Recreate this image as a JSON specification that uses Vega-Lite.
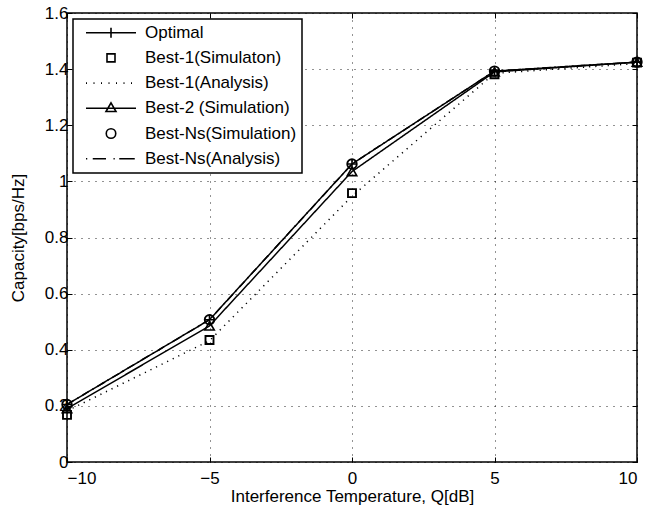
{
  "$schema": "https://vega.github.io/schema/vega-lite/v6.json",
  "width": 570,
  "height": 449,
  "autosize": "none",
  "padding": {"left": 67, "top": 13, "right": 22, "bottom": 46},
  "background": "white",
  "config": {
    "font": "Liberation Sans",
    "view": {"stroke": "black", "strokeWidth": 1.5},
    "axis": {
      "labelFont": "Liberation Sans",
      "labelFontSize": 17,
      "labelColor": "black",
      "titleFont": "Liberation Sans",
      "titleFontSize": 17,
      "titleFontWeight": "normal",
      "titleColor": "black",
      "domain": false,
      "grid": true,
      "gridColor": "black",
      "gridDash": [1, 6],
      "gridWidth": 1,
      "gridOpacity": 0.85,
      "tickColor": "black",
      "tickSize": -5,
      "tickWidth": 1
    },
    "legend": {
      "strokeColor": "black",
      "strokeWidth": 1.5,
      "fillColor": "white",
      "padding": 5,
      "labelFont": "Liberation Sans",
      "labelFontSize": 17,
      "labelColor": "black",
      "labelOffset": 8,
      "symbolOffset": 7,
      "clipHeight": 17.4,
      "rowPadding": 6.2,
      "symbolStrokeColor": "black",
      "symbolStrokeWidth": 1.6,
      "symbolFillColor": "transparent",
      "symbolSize": 2500
    }
  },
  "data": {
    "values": [
      {"series": "Optimal", "x": -10, "y": 0.205},
      {"series": "Optimal", "x": -5, "y": 0.507},
      {"series": "Optimal", "x": 0, "y": 1.062},
      {"series": "Optimal", "x": 5, "y": 1.393},
      {"series": "Optimal", "x": 10, "y": 1.425},
      {"series": "Best-1(Simulaton)", "x": -10, "y": 0.168},
      {"series": "Best-1(Simulaton)", "x": -5, "y": 0.435},
      {"series": "Best-1(Simulaton)", "x": 0, "y": 0.958},
      {"series": "Best-1(Simulaton)", "x": 5, "y": 1.382},
      {"series": "Best-1(Simulaton)", "x": 10, "y": 1.423},
      {"series": "Best-1(Analysis)", "x": -10, "y": 0.182},
      {"series": "Best-1(Analysis)", "x": -5, "y": 0.432},
      {"series": "Best-1(Analysis)", "x": 0, "y": 0.947},
      {"series": "Best-1(Analysis)", "x": 5, "y": 1.385},
      {"series": "Best-1(Analysis)", "x": 10, "y": 1.42},
      {"series": "Best-2 (Simulation)", "x": -10, "y": 0.19},
      {"series": "Best-2 (Simulation)", "x": -5, "y": 0.485},
      {"series": "Best-2 (Simulation)", "x": 0, "y": 1.035},
      {"series": "Best-2 (Simulation)", "x": 5, "y": 1.39},
      {"series": "Best-2 (Simulation)", "x": 10, "y": 1.425},
      {"series": "Best-Ns(Simulation)", "x": -10, "y": 0.205},
      {"series": "Best-Ns(Simulation)", "x": -5, "y": 0.507},
      {"series": "Best-Ns(Simulation)", "x": 0, "y": 1.062},
      {"series": "Best-Ns(Simulation)", "x": 5, "y": 1.393},
      {"series": "Best-Ns(Simulation)", "x": 10, "y": 1.425},
      {"series": "Best-Ns(Analysis)", "x": -10, "y": 0.205},
      {"series": "Best-Ns(Analysis)", "x": -5, "y": 0.507},
      {"series": "Best-Ns(Analysis)", "x": 0, "y": 1.062},
      {"series": "Best-Ns(Analysis)", "x": 5, "y": 1.393},
      {"series": "Best-Ns(Analysis)", "x": 10, "y": 1.425}
    ]
  },
  "layer": [
    {
      "encoding": {
        "x": {
          "field": "x",
          "type": "quantitative",
          "scale": {"domain": [-10, 10], "nice": false, "zero": false},
          "axis": {
            "values": [-10, -5, 0, 5, 10],
            "format": "d",
            "title": "Interference Temperature, Q[dB]",
            "labelPadding": 13,
            "titlePadding": 2
          }
        },
        "y": {
          "field": "y",
          "type": "quantitative",
          "scale": {"domain": [0, 1.6], "nice": false},
          "axis": {
            "values": [0, 0.2, 0.4, 0.6, 0.8, 1, 1.2, 1.4, 1.6],
            "format": "~g",
            "title": "Capacity[bps/Hz]",
            "labelPadding": 4,
            "titlePadding": 17
          }
        }
      },
      "layer": [
        {
          "transform": [{"filter": {"field": "series", "oneOf": ["Optimal", "Best-1(Analysis)", "Best-2 (Simulation)", "Best-Ns(Analysis)"]}}],
          "mark": {"type": "line", "color": "black", "strokeWidth": 1.5},
          "encoding": {
            "detail": {"field": "series"},
            "strokeDash": {
              "field": "series",
              "scale": {
                "domain": ["Optimal", "Best-1(Analysis)", "Best-2 (Simulation)", "Best-Ns(Analysis)"],
                "range": [[1, 0], [1.2, 5], [1, 0], [8, 4, 1.5, 4]]
              },
              "legend": null
            },
            "strokeWidth": {
              "field": "series",
              "scale": {
                "domain": ["Optimal", "Best-1(Analysis)", "Best-2 (Simulation)", "Best-Ns(Analysis)"],
                "range": [1.8, 1.3, 1.8, 1.8]
              },
              "legend": null
            }
          }
        },
        {
          "transform": [{"filter": {"field": "series", "equal": "Optimal"}}],
          "mark": {"type": "point", "shape": "M-1,0H1M0,-1V1", "size": 100, "filled": false, "color": "black", "strokeWidth": 1.6, "opacity": 1}
        },
        {
          "transform": [{"filter": {"field": "series", "equal": "Best-1(Simulaton)"}}],
          "mark": {"type": "point", "shape": "square", "size": 64, "filled": false, "color": "black", "strokeWidth": 1.9, "opacity": 1}
        },
        {
          "transform": [{"filter": {"field": "series", "equal": "Best-2 (Simulation)"}}],
          "mark": {"type": "point", "shape": "triangle-up", "size": 90, "filled": false, "color": "black", "strokeWidth": 1.6, "opacity": 1}
        },
        {
          "transform": [{"filter": {"field": "series", "equal": "Best-Ns(Simulation)"}}],
          "mark": {"type": "point", "shape": "circle", "size": 90, "filled": false, "color": "black", "strokeWidth": 1.9, "opacity": 1}
        }
      ]
    },
    {
      "transform": [{"filter": "datum.x > 100"}],
      "mark": {"type": "point", "filled": false, "color": "black", "strokeWidth": 1.6, "opacity": 1, "size": 2500},
      "encoding": {
        "x": {
          "field": "x",
          "type": "quantitative",
          "scale": {"domain": [-10, 10], "nice": false, "zero": false},
          "axis": {"orient": "top", "labels": false, "grid": false, "title": null, "values": [-10, -5, 0, 5, 10]}
        },
        "y": {
          "field": "y",
          "type": "quantitative",
          "scale": {"domain": [0, 1.6], "nice": false},
          "axis": {"orient": "right", "labels": false, "grid": false, "title": null, "values": [0, 0.2, 0.4, 0.6, 0.8, 1, 1.2, 1.4, 1.6]}
        },
        "shape": {
          "field": "series",
          "scale": {
            "domain": ["Optimal", "Best-1(Simulaton)", "Best-1(Analysis)", "Best-2 (Simulation)", "Best-Ns(Simulation)", "Best-Ns(Analysis)"],
            "range": [
              "M-1,0H1M0,-0.2V0.2",
              "M-0.16,-0.16H0.16V0.16H-0.16Z",
              "M-1,0h0.04M-0.7,0h0.04M-0.4,0h0.04M-0.1,0h0.04M0.2,0h0.04M0.5,0h0.04M0.8,0h0.04",
              "M-1,0H1M0,-0.22L0.2,0.13H-0.2Z",
              "M0.19,0A0.19,0.19 0 1,1 -0.19,0A0.19,0.19 0 1,1 0.19,0Z",
              "M-1,0h0.05M-0.73,0H-0.2M0.1,0h0.05M0.33,0H0.95"
            ]
          },
          "legend": {"title": null, "orient": "top-left", "offset": 6}
        }
      }
    }
  ],
  "resolve": {"axis": {"x": "independent", "y": "independent"}}
}
